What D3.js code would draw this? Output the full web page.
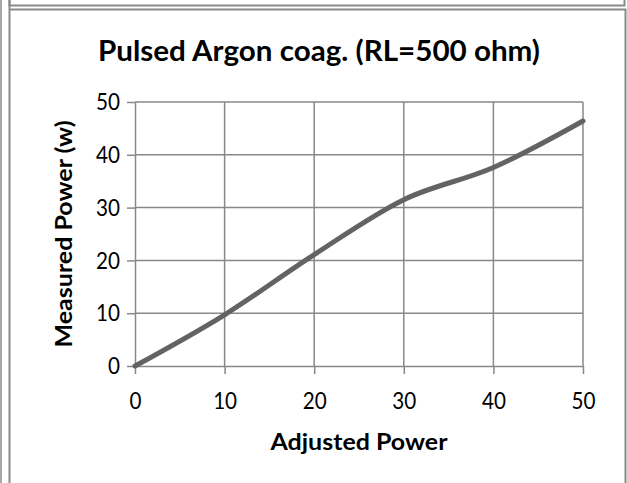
<!DOCTYPE html>
<html>
<head>
<meta charset="utf-8">
<script src="https://cdn.jsdelivr.net/npm/d3@7"></script>
<style>
  html, body { margin: 0; padding: 0; background: #fff; }
  svg { display: block; }
  text { font-family: Lato, "Open Sans", sans-serif; fill: #000; }
</style>
</head>
<body>
<svg id="chart" width="627" height="483"></svg>
<script>
// Pulsed Argon coag. measurement, load 500 ohm
const adjustedPower = [0, 10, 20, 30, 40, 50];
const measuredPower = [0, 9.7, 21.1, 31.5, 37.6, 46.4];
const xTicks = [0, 10, 20, 30, 40, 50];
const yTicks = [0, 10, 20, 30, 40, 50];
const titleText = "Pulsed Argon coag. (RL=500 ohm)";
const xTitle = "Adjusted Power";
const yTitle = "Measured Power (w)";

const svg = d3.select("#chart");
const W = 627, H = 483;
const plot = { left: 135, right: 583, top: 102, bottom: 366 };

// outer cell borders
const frame = svg.append("g").attr("fill", "none");
frame.append("line").attr("x1", 1).attr("x2", 1).attr("y1", 0).attr("y2", H)
  .attr("stroke", "#a8a8a8").attr("stroke-width", 2);
frame.append("line").attr("x1", 9.5).attr("x2", 9.5).attr("y1", 0).attr("y2", H)
  .attr("stroke", "#8a8a8a").attr("stroke-width", 2);
frame.append("path").attr("d", `M9.5,0V5.5H624.5V0`)
  .attr("stroke", "#8a8a8a").attr("stroke-width", 2);
frame.append("path").attr("d", `M9.5,9.5H625.5V${H}`)
  .attr("stroke", "#8a8a8a").attr("stroke-width", 2);

const x = d3.scaleLinear().domain([0, 50]).range([plot.left, plot.right]);
const y = d3.scaleLinear().domain([0, 50]).range([plot.bottom, plot.top]);

const gridColor = "#888888";

// gridlines
const grid = svg.append("g");
grid.selectAll(".gx").data(xTicks.slice(1)).join("line")
  .attr("x1", d => x(d)).attr("x2", d => x(d))
  .attr("y1", plot.top).attr("y2", plot.bottom)
  .attr("stroke", gridColor).attr("stroke-width", 1.5);
grid.selectAll(".gy").data(yTicks.slice(1)).join("line")
  .attr("x1", plot.left).attr("x2", plot.right)
  .attr("y1", d => y(d)).attr("y2", d => y(d))
  .attr("stroke", gridColor).attr("stroke-width", 1.5);

// axes
const xAxis = svg.append("g").attr("transform", `translate(0,${plot.bottom})`)
  .call(d3.axisBottom(x).tickValues(xTicks).tickSize(8).tickPadding(18).tickSizeOuter(0));
const yAxis = svg.append("g").attr("transform", `translate(${plot.left},0)`)
  .call(d3.axisLeft(y).tickValues(yTicks).tickSize(8).tickPadding(7).tickSizeOuter(0));
[xAxis, yAxis].forEach(g => {
  g.selectAll("path.domain").attr("stroke", gridColor).attr("stroke-width", 1.5);
  g.selectAll(".tick line").attr("stroke", gridColor).attr("stroke-width", 1.5);
  g.selectAll(".tick text").attr("font-family", "Lato, sans-serif")
    .attr("font-size", 24).attr("fill", "#000")
    .each(function () {
      // narrower digits, closer to a condensed face
      const w = this.getComputedTextLength();
      d3.select(this).attr("textLength", (w * 0.86).toFixed(2))
        .attr("lengthAdjust", "spacingAndGlyphs");
    });
});
xAxis.selectAll(".tick text").attr("dy", "0.71em");

// data line (smoothed)
const line = d3.line()
  .x((d, i) => x(adjustedPower[i]))
  .y(d => y(d))
  .curve(d3.curveCardinal.tension(0));
svg.append("path").datum(measuredPower)
  .attr("d", line)
  .attr("fill", "none")
  .attr("stroke", "#636363")
  .attr("stroke-width", 5)
  .attr("stroke-linecap", "round")
  .attr("stroke-linejoin", "round");

// titles, squeezed to the set widths
svg.append("text")
  .attr("x", 319).attr("y", 61)
  .attr("text-anchor", "middle")
  .attr("font-weight", "bold").attr("font-size", 28)
  .attr("textLength", 442).attr("lengthAdjust", "spacingAndGlyphs")
  .text(titleText);

svg.append("text")
  .attr("x", (plot.left + plot.right) / 2).attr("y", 450)
  .attr("text-anchor", "middle")
  .attr("font-weight", "bold").attr("font-size", 23)
  .attr("textLength", 177).attr("lengthAdjust", "spacingAndGlyphs")
  .text(xTitle);

svg.append("text")
  .attr("transform", `translate(72,${(plot.top + plot.bottom) / 2}) rotate(-90)`)
  .attr("text-anchor", "middle")
  .attr("font-weight", "bold").attr("font-size", 23)
  .attr("textLength", 227).attr("lengthAdjust", "spacingAndGlyphs")
  .text(yTitle);
</script>
</body>
</html>
